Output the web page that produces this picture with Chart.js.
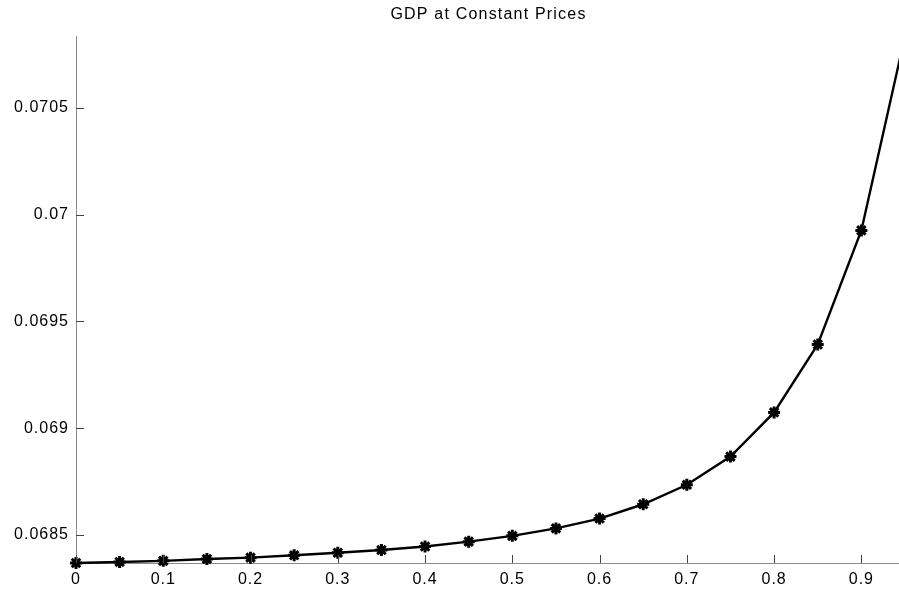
<!DOCTYPE html>
<html>
<head>
<meta charset="utf-8">
<title>GDP at Constant Prices</title>
<script src="https://cdn.jsdelivr.net/npm/chart.js@4/dist/chart.umd.min.js"></script>
<style>
  html, body { margin: 0; padding: 0; background: #fff; overflow: hidden; }
  #wrap { width: 915px; height: 593px; }
</style>
</head>
<body>
<div id="wrap"><canvas id="c" width="915" height="593"></canvas></div>
<script>
// Parameter values along the horizontal axis
const params = [0, 0.05, 0.1, 0.15, 0.2, 0.25, 0.3, 0.35, 0.4, 0.45,
                0.5, 0.55, 0.6, 0.65, 0.7, 0.75, 0.8, 0.85, 0.9, 0.95];
// GDP at constant prices for each parameter value
const gdp = [0.068369, 0.068374, 0.068379, 0.068388, 0.068394, 0.068405,
             0.068417, 0.068430, 0.068446, 0.068469, 0.068496, 0.068531,
             0.068577, 0.068644, 0.068735, 0.068867, 0.069074, 0.069392,
             0.069926, 0.070836];
// Tick positions
const xTicks = [0, 0.1, 0.2, 0.3, 0.4, 0.5, 0.6, 0.7, 0.8, 0.9];
const yTicks = [0.0685, 0.069, 0.0695, 0.07, 0.0705];
const titleText = 'GDP at Constant Prices';

const FONT = '"Liberation Sans", Arial, Helvetica, sans-serif';
const AXIS_COLOR = '#8a8a8a';
const TICK_COLOR = '#444';
const TICK_LEN = 8;

// Inward tick marks and the title centred over the plot area
const axesDecor = {
  id: 'axesDecor',
  beforeDraw(chart) {
    chart.ctx.letterSpacing = '1px';
  },
  afterDraw(chart) {
    const { ctx, chartArea: a, scales: { x, y } } = chart;
    ctx.save();
    ctx.strokeStyle = TICK_COLOR;
    ctx.lineWidth = 1;
    ctx.beginPath();
    xTicks.forEach(v => {
      const px = Math.round(x.getPixelForValue(v)) + 0.5;
      ctx.moveTo(px, a.bottom);
      ctx.lineTo(px, a.bottom - TICK_LEN);
    });
    yTicks.forEach(v => {
      const py = Math.round(y.getPixelForValue(v)) + 0.5;
      ctx.moveTo(a.left, py);
      ctx.lineTo(a.left + TICK_LEN, py);
    });
    ctx.stroke();

    ctx.fillStyle = '#000';
    ctx.font = '16px ' + FONT;
    ctx.letterSpacing = '1.2px';
    ctx.textAlign = 'center';
    ctx.textBaseline = 'middle';
    ctx.fillText(titleText, (a.left + a.right) / 2 - 2, 15);
    ctx.restore();
  }
};

new Chart(document.getElementById('c'), {
  type: 'line',
  data: {
    datasets: [{
      data: params.map((p, i) => ({ x: p, y: gdp[i] })),
      borderColor: '#000',
      backgroundColor: '#000',
      borderWidth: 2.4,
      pointStyle: 'star',
      pointRadius: 6,
      pointBorderWidth: 3,
      pointBorderColor: '#000',
      tension: 0,
      clip: false
    }]
  },
  options: {
    responsive: false,
    devicePixelRatio: 1,
    animation: false,
    layout: { padding: { top: 36, right: 10, left: 0, bottom: 0 } },
    plugins: { legend: { display: false }, title: { display: false }, tooltip: { enabled: false } },
    scales: {
      x: {
        type: 'linear',
        min: 0,
        max: 0.95,
        afterBuildTicks(s) { s.ticks = xTicks.map(v => ({ value: v })); },
        afterFit(s) { s.height = 30; },
        grid: { display: false, drawTicks: false },
        border: { display: true, color: AXIS_COLOR, width: 1 },
        ticks: {
          color: '#000',
          padding: 7,
          maxRotation: 0,
          autoSkip: false,
          font: { family: FONT, size: 16 },
          callback: v => String(v)
        }
      },
      y: {
        type: 'linear',
        min: 0.068369,
        max: 0.070836,
        afterBuildTicks(s) { s.ticks = yTicks.map(v => ({ value: v })); },
        afterFit(s) { s.width = 76; },
        grid: { display: false, drawTicks: false },
        border: { display: true, color: AXIS_COLOR, width: 1 },
        ticks: {
          color: '#000',
          padding: 7,
          autoSkip: false,
          font: { family: FONT, size: 16 },
          callback: v => String(v)
        }
      }
    }
  },
  plugins: [axesDecor]
});
</script>
</body>
</html>
